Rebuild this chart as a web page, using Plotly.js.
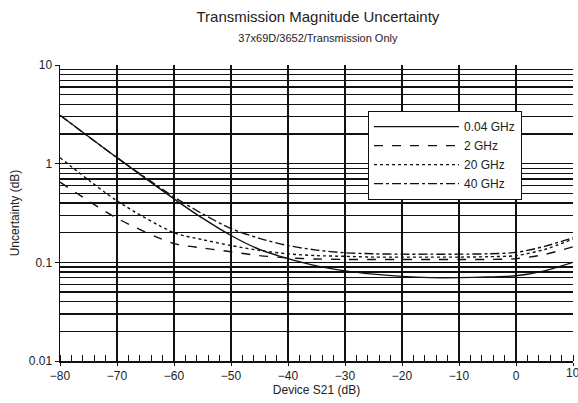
<!DOCTYPE html>
<html>
<head>
<meta charset="utf-8">
<script src="https://cdn.plot.ly/plotly-3.0.1.min.js"></script>
<style>html,body{margin:0;padding:0;background:#fff}#chart{width:578px;height:403px}</style>
</head>
<body>
<div id="chart"></div>
<script>
var s21 = [-80, -70, -60, -55, -50, -45, -40, -35, -30, -25, -20, -15, -10, -5, 0, 5, 10];
var ghz004 = [3.1, 1.15, 0.44, 0.28, 0.187, 0.135, 0.109, 0.092, 0.082, 0.076, 0.072, 0.070, 0.070, 0.071, 0.073, 0.082, 0.1];
var ghz2 = [0.65, 0.28, 0.155, 0.14, 0.128, 0.117, 0.111, 0.108, 0.107, 0.107, 0.107, 0.107, 0.107, 0.107, 0.109, 0.12, 0.144];
var ghz20 = [1.15, 0.42, 0.2, 0.17, 0.148, 0.132, 0.122, 0.117, 0.115, 0.113, 0.113, 0.113, 0.113, 0.114, 0.117, 0.135, 0.172];
var ghz40 = [3.1, 1.15, 0.46, 0.31, 0.22, 0.175, 0.148, 0.133, 0.125, 0.122, 0.121, 0.121, 0.121, 0.122, 0.126, 0.145, 0.178];
var seriesNames = ['0.04 GHz', '2 GHz', '20 GHz', '40 GHz'];
var xLast = 10;
var yTickVals = [0.01, 0.1, 1, 10];
var yTickText = ['0.01', '0.1', '1', '10'];

var dashes = ['solid', 'dash', 'dot', 'dashdot'];
var ys = [ghz004, ghz2, ghz20, ghz40];
var traces = ys.map(function (y, i) {
  return {
    x: s21, y: y, name: seriesNames[i], type: 'scatter', mode: 'lines',
    line: {color: '#111', width: 1.4, dash: dashes[i], shape: 'spline', smoothing: 0.8}
  };
});

var font = {family: 'Liberation Sans, Arial, Helvetica, sans-serif', color: '#222'};
var layout = {
  width: 578, height: 403,
  margin: {l: 60, r: 5, t: 65, b: 42},
  paper_bgcolor: '#fff', plot_bgcolor: '#fff',
  font: Object.assign({size: 12}, font),
  showlegend: true,
  legend: {
    x: 0.60, y: 0.845, xanchor: 'left', yanchor: 'top',
    bgcolor: '#fff', bordercolor: '#111', borderwidth: 1.2,
    font: Object.assign({size: 12}, font),
    itemwidth: 85, tracegroupgap: 0
  },
  title: {
    text: 'Transmission Magnitude Uncertainty<br><span style="font-size:11px">37x69D/3652/Transmission Only</span>',
    x: 0.55, xanchor: 'center', y: 0.945, yanchor: 'top',
    font: Object.assign({size: 15}, font)
  },
  xaxis: {
    range: [-80, 10], tickmode: 'linear', tick0: -80, dtick: 10,
    showgrid: true, gridcolor: '#111', gridwidth: 2,
    zeroline: false, showline: true, linecolor: '#111', linewidth: 1.5,
    ticks: 'outside', ticklen: 3, tickcolor: '#111',
    minor: {dtick: 2, ticks: 'inside', ticklen: 6, tickcolor: '#111', tickwidth: 1, showgrid: false},
    title: {text: 'Device S21 (dB)', font: Object.assign({size: 12}, font), standoff: 2},
    tickfont: Object.assign({size: 12}, font)
  },
  yaxis: {
    type: 'log', range: [-2, 1], tickvals: yTickVals, ticktext: yTickText,
    showgrid: true, gridcolor: '#111', gridwidth: 1.5,
    zeroline: false, showline: true, linecolor: '#111', linewidth: 1.5,
    ticks: 'outside', ticklen: 4, tickcolor: '#111',
    minor: {dtick: 'D1', showgrid: true, gridcolor: '#111', gridwidth: 1.3, ticks: ''},
    title: {text: 'Uncertainty (dB)', font: Object.assign({size: 12}, font), standoff: 6},
    tickfont: Object.assign({size: 12}, font)
  },
  annotations: [{
    x: xLast, xref: 'x', y: 0, yref: 'paper', text: String(xLast),
    showarrow: false, xanchor: 'center', yanchor: 'top', yshift: -3,
    font: Object.assign({size: 12}, font)
  }]
};

Plotly.newPlot('chart', traces, layout, {displayModeBar: false, staticPlot: true});
</script>
</body>
</html>
